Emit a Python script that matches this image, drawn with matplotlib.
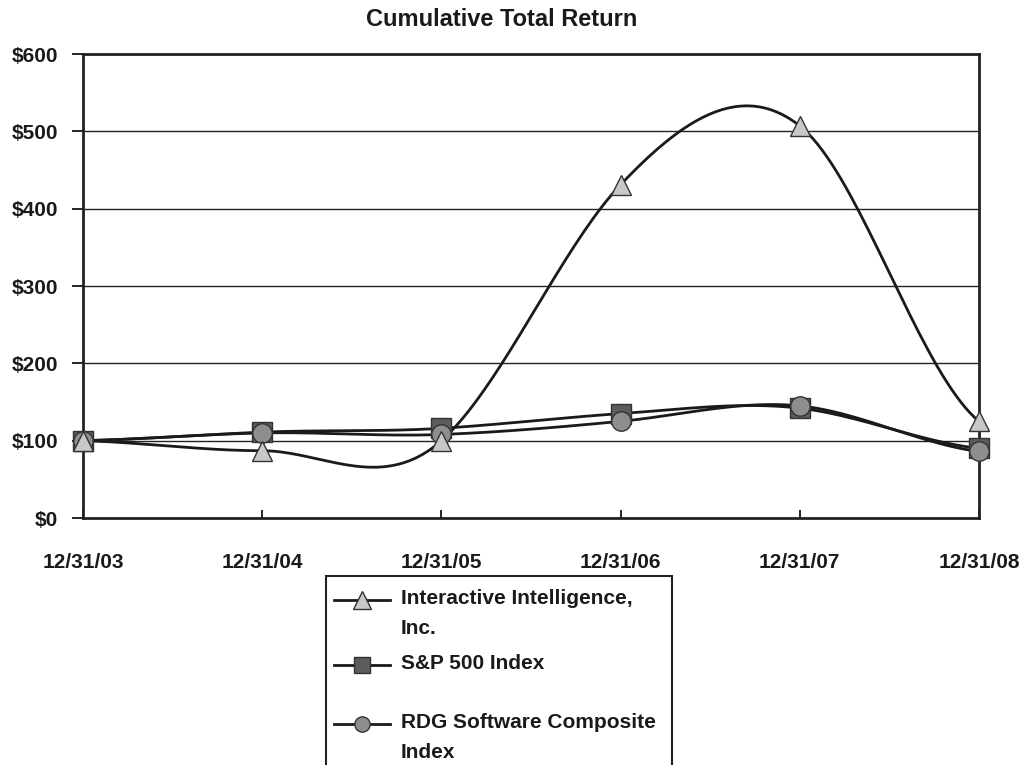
import numpy as np
import matplotlib.pyplot as plt
from matplotlib.lines import Line2D
from matplotlib.patches import Rectangle

plt.rcParams['font.family'] = ['Liberation Sans', 'DejaVu Sans']
plt.rcParams['font.weight'] = 'bold'

# ---- data ----
dates = ['12/31/03', '12/31/04', '12/31/05', '12/31/06', '12/31/07', '12/31/08']
inin = [100, 87, 100, 431, 507, 125]
sp500 = [100, 111, 116, 135, 142, 90]
rdg = [100, 110, 108, 125, 145, 86]
yticks = [0, 100, 200, 300, 400, 500, 600]

names = ['Interactive Intelligence,\nInc.', 'S&P 500 Index', 'RDG Software Composite\nIndex']
markers = ['^', 's', 'o']
fills = ['#c8c8c8', '#5c5c5c', '#8e8e8e']


def smooth(y, n=40, k=1.2):
    # excel-like smoothed line (catmull-rom through the points)
    y = np.asarray(y, float)
    x = np.arange(len(y))
    m = np.zeros_like(y)
    m[1:-1] = (y[2:] - y[:-2]) / 2 * k
    m[0] = (y[1] - y[0]) * 0.5
    m[-1] = (y[-1] - y[-2]) * 0.5
    xs, ys = [], []
    for i in range(len(y) - 1):
        t = np.linspace(0, 1, n)
        h00 = 2 * t**3 - 3 * t**2 + 1
        h10 = t**3 - 2 * t**2 + t
        h01 = -2 * t**3 + 3 * t**2
        h11 = t**3 - t**2
        xs.append(x[i] + t)
        ys.append(h00 * y[i] + h10 * m[i] + h01 * y[i + 1] + h11 * m[i + 1])
    return np.concatenate(xs), np.concatenate(ys)


fig = plt.figure(figsize=(10.23, 7.65), dpi=100)
W, H = 1023, 765
ax = fig.add_axes([83 / W, 1 - 518 / H, (979 - 83) / W, (518 - 54) / H])

x = np.arange(len(dates))
series = [inin, sp500, rdg]
for s in series:
    sx, sy = smooth(s)
    ax.plot(sx, sy, color='#1a1a1a', lw=2, zorder=3)
# markers: squares, circles, then triangles on top
for idx in [1, 2, 0]:
    ax.plot(x, series[idx], ls='none', marker=markers[idx], ms=15 if idx == 0 else 14,
            mfc=fills[idx], mec='#333333', mew=1, zorder=4, clip_on=False)

ax.set_xlim(0, len(dates) - 1)
ax.set_ylim(0, 600)
ax.set_yticks(yticks)
ax.set_yticklabels([f'${v}' for v in yticks])
ax.set_xticks(x)
ax.set_xticklabels(dates)
ax.grid(axis='y', color='#222222', lw=1)
ax.grid(axis='x', visible=False)
for sp in ax.spines.values():
    sp.set_linewidth(2)
    sp.set_color('#222222')
ax.tick_params(axis='y', direction='out', length=8, width=1.2, pad=10, labelsize=15)
ax.tick_params(axis='x', direction='in', length=6, width=1.2, pad=25, labelsize=15)
for lab in ax.get_xticklabels() + ax.get_yticklabels():
    lab.set_fontweight('bold')
    lab.set_color('#1a1a1a')

fig.text(502 / W, 1 - 20 / H, 'Cumulative Total Return',
         ha='center', va='center', fontsize=17, fontweight='bold', color='#1a1a1a')

# ---- legend drawn by hand (box runs off the bottom) ----
fig.add_artist(Rectangle((326 / W, -0.05), (672 - 326) / W, 0.05 + 1 - 576 / H,
                         transform=fig.transFigure, fill=False, lw=1.5, ec='#222222'))
rows = [600, 665, 724]
for i, yy in enumerate(rows):
    yf = 1 - yy / H
    fig.add_artist(Line2D([334 / W, 390 / W], [yf, yf], transform=fig.transFigure,
                          color='#1a1a1a', lw=2))
    fig.add_artist(Line2D([362 / W], [yf], transform=fig.transFigure, ls='none',
                          marker=markers[i], ms=13 if i == 0 else 11,
                          mfc=fills[i], mec='#333333', mew=1))
    fig.text(401 / W, yf + 11 / H, names[i], ha='left', va='top', fontsize=15,
             fontweight='bold', color='#1a1a1a', linespacing=1.7)

plt.savefig('out.png', dpi=100)
